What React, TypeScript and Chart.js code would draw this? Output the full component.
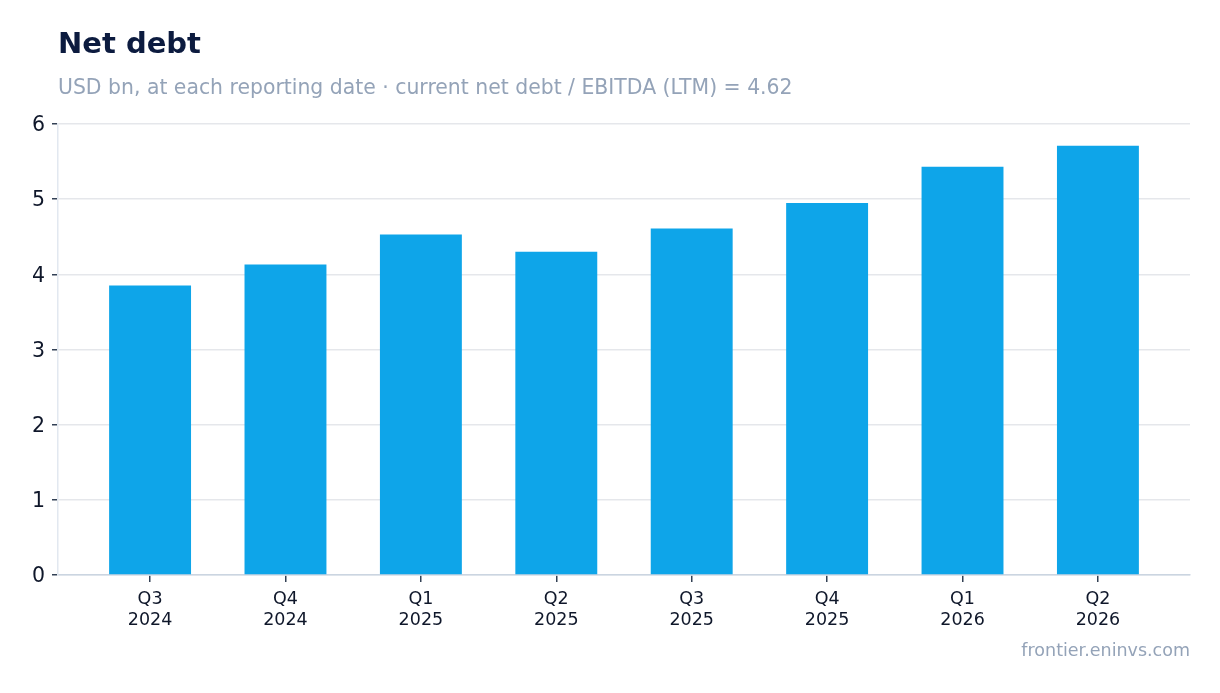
import { useEffect, useRef } from 'react';
import { Chart, registerables } from 'chart.js';

Chart.register(...registerables);

const quarters = [['Q3', '2024'], ['Q4', '2024'], ['Q1', '2025'], ['Q2', '2025'], ['Q3', '2025'], ['Q4', '2025'], ['Q1', '2026'], ['Q2', '2026']];
const netDebt = [3.85, 4.13, 4.53, 4.3, 4.61, 4.95, 5.43, 5.71];
const yTicks = [0, 1, 2, 3, 4, 5, 6];

const FONT = "'DejaVu Sans', Verdana, sans-serif";

export default function App() {
  const canvasRef = useRef<HTMLCanvasElement>(null);

  useEffect(() => {
    document.body.style.margin = '0';
    if (!canvasRef.current) return;
    const chart = new Chart(canvasRef.current, {
      type: 'bar',
      data: {
        datasets: [{
          label: 'Net debt',
          data: netDebt.map((v, i) => ({ x: i, y: v })),
          backgroundColor: '#0ea5e9',
          borderWidth: 0,
          barPercentage: 0.605,
          categoryPercentage: 1,
        }],
      },
      options: {
        animation: false,
        responsive: false,
        maintainAspectRatio: false,
        layout: { padding: { top: 124, right: 30, bottom: 57, left: 0 } },
        plugins: { legend: { display: false }, tooltip: { enabled: false } },
        scales: {
          x: {
            type: 'linear',
            min: -0.68,
            max: quarters.length - 1 + 0.68,
            offset: false,
            afterBuildTicks: (s: any) => { s.ticks = quarters.map((_, i) => ({ value: i })); },
            grid: { drawOnChartArea: false, offset: false, tickColor: '#334155', tickLength: 7, lineWidth: 1.5 },
            border: { color: '#cbd5e1', width: 1.5 },
            ticks: { color: '#0f172a', font: { family: FONT, size: 17.5, lineHeight: 1.2 }, padding: 7, maxRotation: 0, autoSkip: false, callback: (v: any) => quarters[v] },
            afterFit: (s: any) => { s.height = 61; },
          },
          y: {
            min: 0,
            max: 6,
            afterBuildTicks: (s: any) => { s.ticks = yTicks.map(v => ({ value: v })); },
            grid: { color: '#e5e7eb', tickColor: '#334155', tickLength: 6, lineWidth: 1.5 },
            border: { color: '#e2e8f0', width: 1.5 },
            ticks: { color: '#0f172a', font: { family: FONT, size: 20.5 }, padding: 7, labelOffset: 2 },
            afterFit: (s: any) => { s.width = 58; },
          },
        },
      },
    });
    return () => chart.destroy();
  }, []);

  return (
    <div style={{ position: 'relative', width: 1220, height: 693, background: '#fff', fontFamily: FONT, overflow: 'hidden' }}>
      <canvas ref={canvasRef} width={1220} height={693} style={{ position: 'absolute', left: 0, top: 0 }} />
      <div style={{ position: 'absolute', left: 58, top: 26, fontSize: 29, fontWeight: 'bold', color: '#0c1b3f', whiteSpace: 'nowrap' }}>Net debt</div>
      <div style={{ position: 'absolute', left: 58, top: 75, fontSize: 20.4, color: '#94a3b8', whiteSpace: 'nowrap' }}>USD bn, at each reporting date · current net debt / EBITDA (LTM) = 4.62</div>
      <div style={{ position: 'absolute', right: 30, top: 640, fontSize: 17.5, color: '#94a3b8', whiteSpace: 'nowrap' }}>frontier.eninvs.com</div>
    </div>
  );
}
